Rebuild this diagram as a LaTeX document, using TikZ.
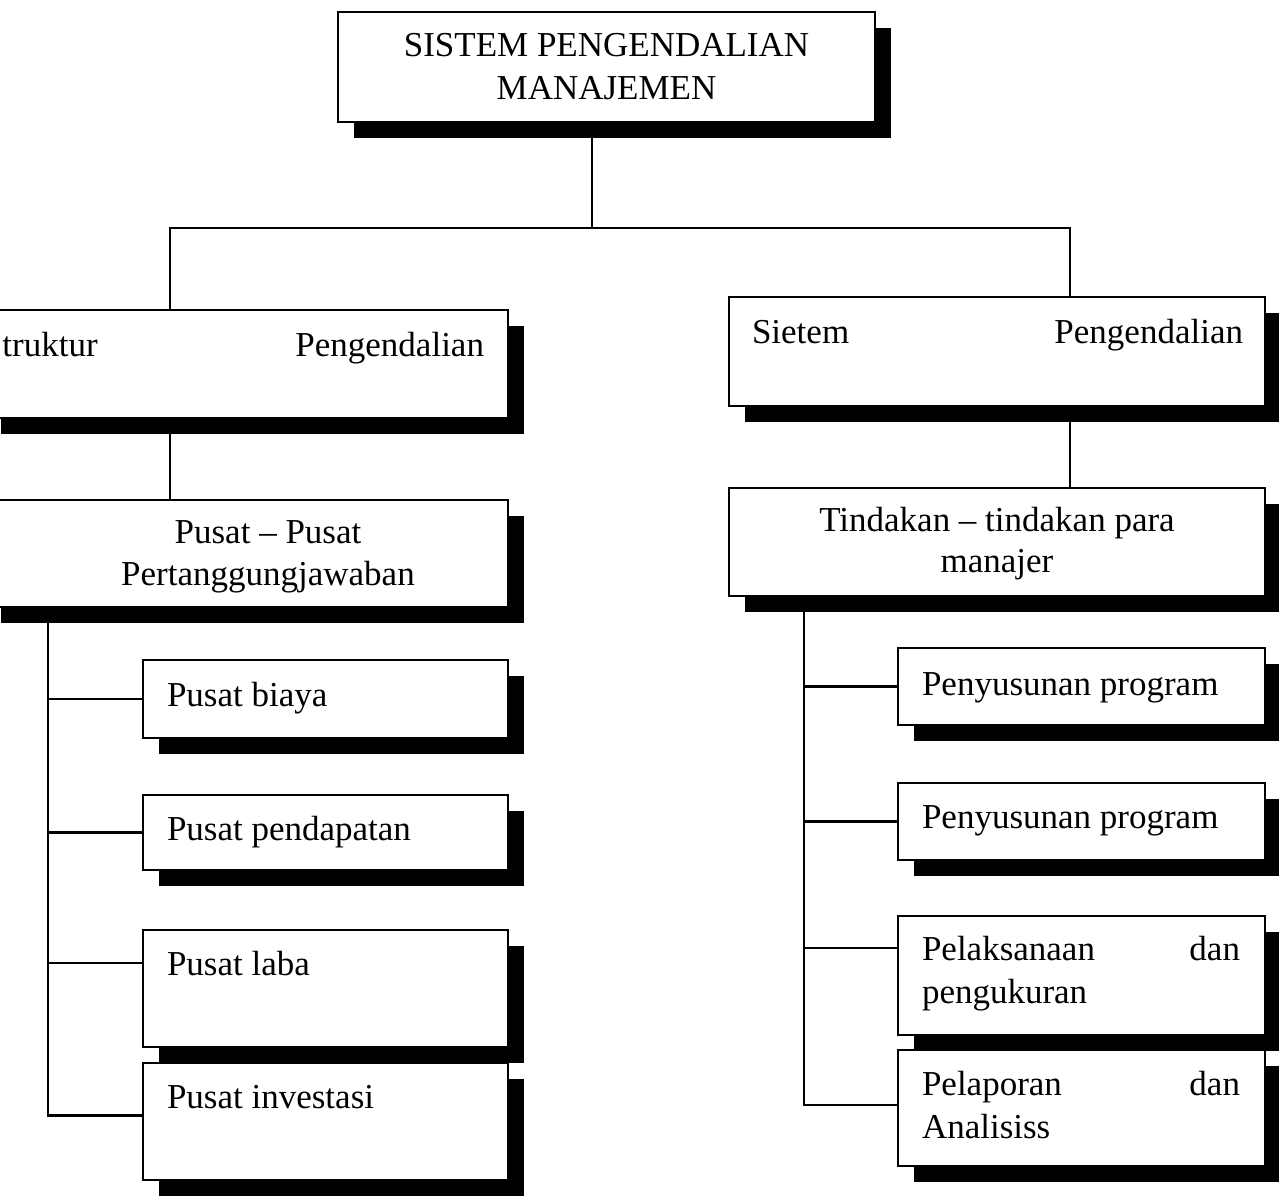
\documentclass[tikz,border=0pt]{standalone}
\usepackage{fontspec}
\setmainfont{Liberation Serif}
\usetikzlibrary{shadows,calc}
\pgfdeclarelayer{bg}
\pgfsetlayers{bg,main}
\tikzset{
  shbox/.style={draw=black, line width=2pt, fill=white, inner sep=0pt, outer sep=0pt,
    general shadow={fill=black, shadow xshift=16pt, shadow yshift=-16pt}},
  lbl/.style={inner sep=0pt, outer sep=0pt, font=\fontsize{35}{43}\selectfont},
  conn/.style={line width=2.2pt, draw=black},
}
\newcommand\mkbox[5]{\node[shbox, minimum width={(#4-#2)*1pt}, minimum height={(#5-#3)*1pt}] (#1) at ({(#2+#4)/2},{(#3+#5)/2}) {};}
\begin{document}
\begin{tikzpicture}[x=1pt,y=-1pt]
\useasboundingbox (0,0) rectangle (1279,1202);
\clip (0,0) rectangle (1279,1202);

% top box
\node[shbox, font=\fontsize{35}{43}\selectfont, align=center, minimum width=537pt, minimum height=110pt] (top) at (606.5,67) {SISTEM PENGENDALIAN\\MANAJEMEN};

% left column
\mkbox{l1}{-15}{310}{508}{418}
\mkbox{l2}{-15}{500}{508}{607}
\mkbox{biaya}{143}{660}{508}{738}
\mkbox{pend}{143}{795}{508}{870}
\mkbox{laba}{143}{930}{508}{1047}
\mkbox{inv}{143}{1063}{508}{1180}

% right column
\mkbox{r1}{729}{297}{1265}{406}
\mkbox{r2}{729}{488}{1265}{596}
\mkbox{pp1}{898}{648}{1265}{725}
\mkbox{pp2}{898}{783}{1265}{860}
\mkbox{pel}{898}{916}{1265}{1035}
\mkbox{lap}{898}{1050}{1265}{1166}

% texts left
\node[lbl, anchor=base west] (t1a) at (-17,356) {Struktur};
\node[lbl, anchor=base east] (t1b) at (484,356) {Pengendalian};
\node[lbl, anchor=base] (t2a) at (268,543) {Pusat – Pusat};
\node[lbl, anchor=base] (t2b) at (268,585) {Pertanggungjawaban};
\node[lbl, anchor=base west] (t3) at (167,706) {Pusat biaya};
\node[lbl, anchor=base west] (t4) at (167,840) {Pusat pendapatan};
\node[lbl, anchor=base west] (t5) at (167,975) {Pusat laba};
\node[lbl, anchor=base west] (t6) at (167,1108) {Pusat investasi};

% texts right
\node[lbl, anchor=base west] (s1a) at (752,343) {Sietem};
\node[lbl, anchor=base east] (s1b) at (1243,343) {Pengendalian};
\node[lbl, anchor=base] (s2a) at (997,531) {Tindakan – tindakan para};
\node[lbl, anchor=base] (s2b) at (997,572) {manajer};
\node[lbl, anchor=base west] (s3) at (922,695) {Penyusunan program};
\node[lbl, anchor=base west] (s4) at (922,828) {Penyusunan program};
\node[lbl, anchor=base west] (s5a) at (922,960) {Pelaksanaan};
\node[lbl, anchor=base east] (s5b) at (1240,960) {dan};
\node[lbl, anchor=base west] (s5c) at (922,1003) {pengukuran};
\node[lbl, anchor=base west] (s6a) at (922,1095) {Pelaporan};
\node[lbl, anchor=base east] (s6b) at (1240,1095) {dan};
\node[lbl, anchor=base west] (s6c) at (922,1138) {Analisiss};

% connectors
\coordinate (jt) at (592,228);
\coordinate (jl) at (170,228);
\coordinate (jr) at (1070,228);
\coordinate (sl) at (48,0);
\coordinate (sr) at (804,0);
\begin{pgfonlayer}{bg}
\fill[white] (0,0) rectangle (1279,1202);
\draw[conn] (top.south -| jt) -- (jt);
\draw[conn] (jl |- l1.north) -- (jl) -- (jr) -- (jr |- r1.north);
\draw[conn] (jl |- l1.south) -- (jl |- l2.north);
\draw[conn] (jr |- r1.south) -- (jr |- r2.north);
% left spine
\draw[conn] (sl |- l2.south) -- ($(sl |- inv.west)+(0,-6)$) -- ($(inv.west)+(0,-6)$);
\draw[conn] (sl |- biaya.west) -- (biaya.west);
\draw[conn] (sl |- pend.west) -- (pend.west);
\draw[conn] ($(sl |- laba.north)+(0,33)$) -- ($(laba.north west)+(0,33)$);
% right spine
\draw[conn] (sr |- r2.south) -- ($(sr |- lap.west)+(0,-3)$) -- ($(lap.west)+(0,-3)$);
\draw[conn] (sr |- pp1.west) -- (pp1.west);
\draw[conn] (sr |- pp2.west) -- (pp2.west);
\draw[conn] ($(sr |- pel.north)+(0,32)$) -- ($(pel.north west)+(0,32)$);
\end{pgfonlayer}
\end{tikzpicture}
\end{document}
